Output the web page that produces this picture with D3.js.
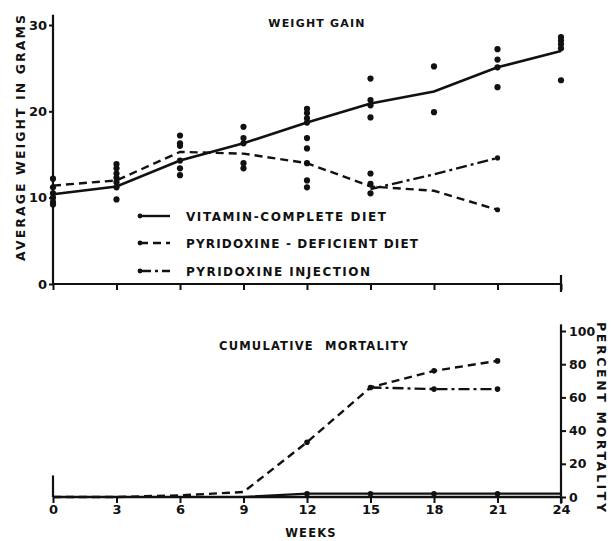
<!DOCTYPE html>
<html>
<head>
<meta charset="utf-8">
<title>Weight gain and cumulative mortality</title>
<script src="https://cdnjs.cloudflare.com/ajax/libs/d3/7.8.5/d3.min.js"></script>
<style>
    body { margin: 0; background: #fff; }
    svg text { font-family: 'DejaVu Sans', sans-serif; font-weight: bold; fill: #111; }
</style>
</head>
<body>
<div id="chart"></div>
<script>
// ---------------- data ----------------
var weeks = [0, 3, 6, 9, 12, 15, 18, 21, 24];

// weight gain (grams)
var completeWeight   = [10.4, 11.3, 14.3, 16.3, 18.7, 20.9, 22.3, 25.1, 27.0];
var deficientWeeks   = [0, 3, 6, 9, 12, 15, 18, 21];
var deficientWeight  = [11.4, 12.0, 15.3, 15.1, 14.0, 11.3, 10.8, 8.6];
var injectionWeeks   = [15, 18, 21];
var injectionWeight  = [11.0, 12.7, 14.6];

// individual animals (scatter)
var dotWeeks  = [0, 0, 0, 0, 0, 0,
                 3, 3, 3, 3, 3, 3, 3,
                 6, 6, 6, 6, 6, 6,
                 9, 9, 9, 9, 9,
                 12, 12, 12, 12, 12, 12, 12, 12, 12,
                 15, 15, 15, 15, 15, 15, 15,
                 18, 18,
                 21, 21, 21, 21,
                 24, 24, 24, 24, 24];
var dotWeight = [12.2, 11.2, 10.5, 10.0, 9.5, 9.2,
                 13.9, 13.4, 12.8, 12.3, 11.8, 11.2, 9.8,
                 17.2, 16.3, 16.0, 14.3, 13.4, 12.6,
                 18.2, 16.9, 16.3, 14.0, 13.4,
                 20.3, 19.8, 19.2, 18.7, 16.9, 15.7, 14.0, 12.0, 11.2,
                 23.8, 21.3, 20.7, 19.3, 12.8, 11.6, 10.5,
                 25.2, 19.9,
                 27.2, 26.0, 25.1, 22.8,
                 28.6, 28.2, 27.8, 27.3, 23.6];

// cumulative mortality (percent)
var completeMort   = [0, 0, 0, 0, 2, 2, 2, 2, 2];
var deficientMort  = [0, 0, 1, 3, 33, 66, 76, 82];
var injectionMort  = [66, 65, 65];

var weightTicks = [0, 10, 20, 30];
var mortTicks   = [0, 20, 40, 60, 80, 100];
var legendLabels = ["VITAMIN-COMPLETE DIET", "PYRIDOXINE - DEFICIENT DIET", "PYRIDOXINE INJECTION"];

// ---------------- layout ----------------
var W = 611, H = 541;
var svg = d3.select("#chart").append("svg").attr("width", W).attr("height", H);

var x  = d3.scaleLinear().domain([0, 24]).range([53, 561]);
var yW = d3.scaleLinear().domain([0, 30]).range([284, 25]);
var yM = d3.scaleLinear().domain([0, 100]).range([497, 331]);

var ink = "#111";
var dashes = { solid: null, dashed: "8,5", dashdot: "11,4,3,4" };

function zip(xs, ys) { return xs.map(function (d, i) { return [d, ys[i]]; }); }

// ---------------- top panel: weight gain ----------------
var topG = svg.append("g");

// y axis
var yAxisW = topG.append("g")
    .attr("transform", "translate(" + x(0) + ",0)")
    .call(d3.axisLeft(yW).tickValues(weightTicks).tickSize(4).tickPadding(2));
yAxisW.select(".domain").remove();
yAxisW.append("line").attr("x1", 0).attr("x2", 0)
    .attr("y1", yW(0)).attr("y2", yW(31.2)).attr("stroke", ink).attr("stroke-width", 2.2);
yAxisW.selectAll(".tick line").attr("stroke", ink).attr("stroke-width", 2);
yAxisW.selectAll(".tick text").attr("font-size", 13).attr("fill", ink)
    .style("font-family", "DejaVu Sans").style("font-weight", "bold");

// x axis (no labels)
var xAxisW = topG.append("g")
    .attr("transform", "translate(0," + yW(0) + ")")
    .call(d3.axisBottom(x).tickValues(weeks).tickSize(6).tickFormat(""));
xAxisW.select(".domain").attr("stroke", ink).attr("stroke-width", 2.2).attr("d", "M" + x(0) + ",0H" + x(24));
xAxisW.selectAll(".tick line").attr("stroke", ink).attr("stroke-width", 2);
xAxisW.append("line").attr("x1", x(24)).attr("x2", x(24))
    .attr("y1", 8).attr("y2", -9).attr("stroke", ink).attr("stroke-width", 2.2);

// scatter
topG.selectAll("circle.dot")
    .data(zip(dotWeeks, dotWeight))
    .enter().append("circle")
    .attr("class", "dot")
    .attr("cx", function (d) { return x(d[0]); })
    .attr("cy", function (d) { return yW(d[1]); })
    .attr("r", 3.1)
    .attr("fill", ink);

var lineW = d3.line().x(function (d) { return x(d[0]); }).y(function (d) { return yW(d[1]); });

topG.append("path").datum(zip(weeks, completeWeight))
    .attr("d", lineW).attr("fill", "none").attr("stroke", ink).attr("stroke-width", 2.6);
topG.append("path").datum(zip(deficientWeeks, deficientWeight))
    .attr("d", lineW).attr("fill", "none").attr("stroke", ink).attr("stroke-width", 2.4)
    .attr("stroke-dasharray", dashes.dashed);
topG.append("path").datum(zip(injectionWeeks, injectionWeight))
    .attr("d", lineW).attr("fill", "none").attr("stroke", ink).attr("stroke-width", 2.4)
    .attr("stroke-dasharray", dashes.dashdot);
topG.selectAll("circle.end")
    .data(zip(deficientWeeks.slice(-1), deficientWeight.slice(-1))
        .concat(zip(injectionWeeks.slice(-1), injectionWeight.slice(-1))))
    .enter().append("circle").attr("class", "end")
    .attr("cx", function (d) { return x(d[0]); })
    .attr("cy", function (d) { return yW(d[1]); })
    .attr("r", 2.6).attr("fill", ink);

// titles
topG.append("text").attr("x", 317).attr("y", 27).attr("text-anchor", "middle")
    .attr("font-size", 11).attr("letter-spacing", 1.2).text("WEIGHT GAIN");
topG.append("text")
    .attr("transform", "translate(25," + 138 + ") rotate(-90)")
    .attr("text-anchor", "middle").attr("font-size", 12.5)
    .attr("textLength", 246).attr("lengthAdjust", "spacing")
    .text("AVERAGE WEIGHT IN GRAMS");

// legend
var legendStyles = [dashes.solid, dashes.dashed, dashes.dashdot];
var legendY = [216, 243, 271];
var legendWidth = [200, 232, 184];
var legend = topG.selectAll("g.legend")
    .data(legendLabels)
    .enter().append("g").attr("class", "legend")
    .attr("transform", function (d, i) { return "translate(138," + legendY[i] + ")"; });
legend.append("line").attr("x1", 2).attr("x2", 32).attr("y1", 0).attr("y2", 0)
    .attr("stroke", ink).attr("stroke-width", 2.4)
    .attr("stroke-dasharray", function (d, i) { return legendStyles[i]; });
legend.append("circle").attr("cx", 2).attr("cy", 0).attr("r", 2.4).attr("fill", ink);
legend.append("text").attr("x", 48).attr("y", 5).attr("font-size", 12)
    .attr("textLength", function (d, i) { return legendWidth[i]; })
    .attr("lengthAdjust", "spacing")
    .text(function (d) { return d; });

// ---------------- bottom panel: mortality ----------------
var botG = svg.append("g");

var xAxisM = botG.append("g")
    .attr("transform", "translate(0," + yM(0) + ")")
    .call(d3.axisBottom(x).tickValues(weeks).tickSize(6).tickPadding(2));
xAxisM.select(".domain").attr("stroke", ink).attr("stroke-width", 2.4).attr("d", "M" + x(0) + ",0H" + x(24));
xAxisM.selectAll(".tick line").attr("stroke", ink).attr("stroke-width", 2);
xAxisM.selectAll(".tick text").attr("font-size", 13).attr("fill", ink)
    .style("font-family", "DejaVu Sans").style("font-weight", "bold");
botG.append("line").attr("x1", x(0)).attr("x2", x(0))
    .attr("y1", yM(0)).attr("y2", yM(13)).attr("stroke", ink).attr("stroke-width", 2.2);

var yAxisM = botG.append("g")
    .attr("transform", "translate(" + x(24) + ",0)")
    .call(d3.axisRight(yM).tickValues(mortTicks).tickSize(5).tickPadding(3));
yAxisM.select(".domain").remove();
yAxisM.append("line").attr("x1", 0).attr("x2", 0)
    .attr("y1", yM(-4)).attr("y2", yM(104)).attr("stroke", ink).attr("stroke-width", 2.2);
yAxisM.selectAll(".tick line").attr("stroke", ink).attr("stroke-width", 2);
yAxisM.selectAll(".tick text").attr("font-size", 12.5).attr("fill", ink)
    .style("font-family", "DejaVu Sans").style("font-weight", "bold");

var lineM = d3.line().x(function (d) { return x(d[0]); }).y(function (d) { return yM(d[1]); });

botG.append("path").datum(zip(weeks, completeMort))
    .attr("d", lineM).attr("fill", "none").attr("stroke", ink).attr("stroke-width", 2.2);
botG.append("path").datum(zip(deficientWeeks, deficientMort))
    .attr("d", lineM).attr("fill", "none").attr("stroke", ink).attr("stroke-width", 2.4)
    .attr("stroke-dasharray", dashes.dashed);
botG.append("path").datum(zip(injectionWeeks, injectionMort))
    .attr("d", lineM).attr("fill", "none").attr("stroke", ink).attr("stroke-width", 2.4)
    .attr("stroke-dasharray", dashes.dashdot);

var mortDots = zip(weeks.slice(4, 8), completeMort.slice(4, 8))
    .concat(zip([12, 18, 21], [deficientMort[4], deficientMort[6], deficientMort[7]]))
    .concat(zip(injectionWeeks, injectionMort));
botG.selectAll("circle.mdot").data(mortDots)
    .enter().append("circle").attr("class", "mdot")
    .attr("cx", function (d) { return x(d[0]); })
    .attr("cy", function (d) { return yM(d[1]); })
    .attr("r", 2.8).attr("fill", ink);

botG.append("text").attr("x", 314).attr("y", 350).attr("text-anchor", "middle")
    .attr("font-size", 11.5).attr("letter-spacing", 1.2).attr("word-spacing", 6)
    .text("CUMULATIVE MORTALITY");
botG.append("text").attr("x", 311).attr("y", 537).attr("text-anchor", "middle")
    .attr("font-size", 11.5).attr("letter-spacing", 1.2).text("WEEKS");
botG.append("text")
    .attr("transform", "translate(597," + 417 + ") rotate(90)")
    .attr("text-anchor", "middle").attr("font-size", 12.5)
    .attr("textLength", 190).attr("lengthAdjust", "spacing")
    .text("PERCENT MORTALITY");
</script>
</body>
</html>
